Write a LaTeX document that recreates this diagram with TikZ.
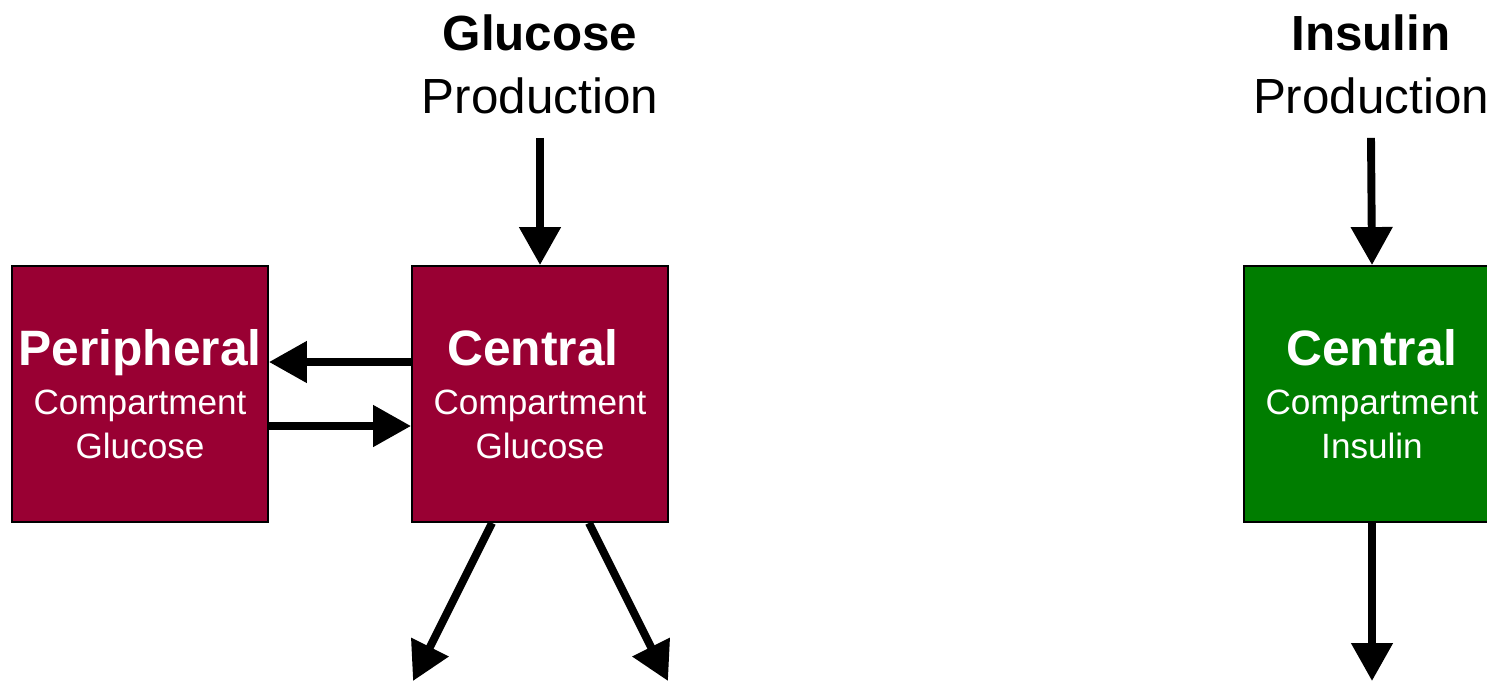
\documentclass[tikz,border=0pt]{standalone}
\usepackage{fontspec}
\setmainfont{Liberation Sans}
\usepackage{xcolor}
\usetikzlibrary{arrows.meta}
\definecolor{glucred}{RGB}{153,0,51}
\definecolor{insgreen}{RGB}{0,125,0}

\begin{document}
\begin{tikzpicture}[x=0.02cm,y=-0.02cm]
\tikzstyle{every node}=[font=\fontsize{20}{25}\selectfont]
\tikzstyle{compartment}=[draw=black, line width=1.1pt, minimum size=5.12cm, inner sep=0pt, text=white, align=center]
\tikzstyle{source}=[align=center, font=\fontsize{28.1}{35.7}\selectfont, inner xsep=0pt, inner ysep=0.48cm]
\tikzstyle{flow}=[line width=4.5pt, -{Triangle[length=0.76cm,width=0.8cm]}]
\clip (0,0) rectangle (1487,681);
\node[source] (gp) at (540,64) {{\bfseries Glucose}\\Production};
\node[source] (ip) at (1371,64) {{\bfseries Insulin}\\Production};
\node[compartment, fill=glucred] (pg) at (140,394) {{\bfseries\fontsize{28.3}{28.3}\selectfont Peripheral}\\[3pt]Compartment\\Glucose};
\node[compartment, fill=glucred] (cg) at (540,394) {{\bfseries\fontsize{28.3}{28.3}\selectfont Central}\hspace*{0.28cm}\\[3pt]Compartment\\Glucose};
\node[compartment, fill=insgreen] (ci) at (1372,394) {{\bfseries\fontsize{28.3}{28.3}\selectfont Central}\\[3pt]Compartment\\Insulin};
\coordinate (gout1) at (413,681);
\coordinate (gout2) at (668,681);
\coordinate (iout) at (1372,681);
\draw[flow] (gp.south) -- (cg.north);
\draw[flow] (ip.south) -- (ci.north);
\draw[flow] (cg.west |- 0,362) -- (pg.east |- 0,362);
\draw[flow] (pg.east |- 0,426) -- (cg.west |- 0,426);
\draw[flow] ([xshift=-0.96cm]cg.south) -- (gout1);
\draw[flow] ([xshift=0.98cm]cg.south) -- (gout2);
\draw[flow] (ci.south) -- (iout);
\end{tikzpicture}
\end{document}
